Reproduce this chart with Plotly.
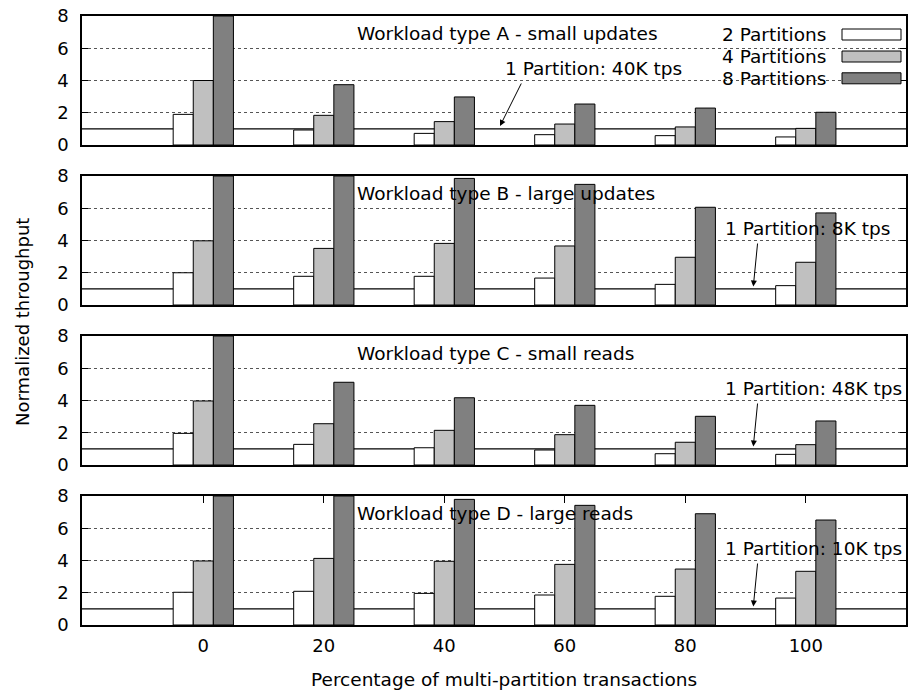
import plotly.graph_objects as go

# ---------------- data ----------------
PCT = [0, 20, 40, 60, 80, 100]
PCT_LABELS = ["0", "20", "40", "60", "80", "100"]
SERIES = ["2 Partitions", "4 Partitions", "8 Partitions"]

A_2 = [1.90, 0.93, 0.72, 0.64, 0.58, 0.50]
A_4 = [4.00, 1.84, 1.45, 1.30, 1.12, 1.03]
A_8 = [8.00, 3.74, 2.98, 2.54, 2.29, 2.03]

B_2 = [2.00, 1.78, 1.78, 1.67, 1.28, 1.20]
B_4 = [3.98, 3.51, 3.82, 3.66, 2.96, 2.65]
B_8 = [8.00, 8.00, 7.85, 7.48, 6.06, 5.71]

C_2 = [1.96, 1.28, 1.07, 0.93, 0.70, 0.66]
C_4 = [3.97, 2.56, 2.15, 1.88, 1.41, 1.26]
C_8 = [8.00, 5.13, 4.17, 3.70, 3.02, 2.73]

D_2 = [2.03, 2.09, 1.96, 1.86, 1.78, 1.67]
D_4 = [3.97, 4.13, 3.95, 3.76, 3.47, 3.33]
D_8 = [8.00, 8.00, 7.79, 7.42, 6.90, 6.51]

PANEL_TITLES = ["Workload type A - small updates", "Workload type B - large updates",
                "Workload type C - small reads", "Workload type D - large reads"]
BASELINE_LABELS = ["1 Partition: 40K tps", "1 Partition: 8K tps",
                   "1 Partition: 48K tps", "1 Partition: 10K tps"]
BASELINE = 1
Y_TICKS = [0, 2, 4, 6, 8]

PANELS = [(A_2, A_4, A_8), (B_2, B_4, B_8), (C_2, C_4, C_8), (D_2, D_4, D_8)]

# ---------------- style / layout ----------------
FONT = "DejaVu Sans"
COLORS = ["#ffffff", "#c0c0c0", "#808080"]
W, H = 918, 695
L_PX, R_PX = 82, 906
PANEL_TOPS = [16, 176, 336, 496]
PANEL_H = 129
BOTTOM_PX = 625
X0_PX = 203.3          # pixel of x=0
PX_PER_UNIT = 6.025    # pixels per percentage unit
Y_PX_PER_UNIT = PANEL_H / 8.0

plot_w = R_PX - L_PX
plot_h = BOTTOM_PX - PANEL_TOPS[0]


def px_to_paper_x(px):
    return (px - L_PX) / plot_w


def px_to_paper_y(py):
    return (BOTTOM_PX - py) / plot_h


def px_to_dx(px):
    return (px - X0_PX) / PX_PER_UNIT


def px_to_dy(py, top):
    return 8 - (py - top) / Y_PX_PER_UNIT


x_range = [px_to_dx(L_PX), px_to_dx(R_PX)]

fig = go.Figure()
for i, vals in enumerate(PANELS):
    sfx = "" if i == 0 else str(i + 1)
    for j, v in enumerate(vals):
        fig.add_trace(go.Bar(
            x=PCT, y=v, name=SERIES[j], marker=dict(color=COLORS[j],
                                                   line=dict(color="#000000", width=1)),
            xaxis="x" + sfx, yaxis="y" + sfx, showlegend=False, hoverinfo="x+y"))

layout = dict(
    width=W, height=H,
    margin=dict(l=L_PX, r=W - R_PX, t=PANEL_TOPS[0], b=H - BOTTOM_PX,
                autoexpand=False, pad=0),
    paper_bgcolor="white", plot_bgcolor="white",
    barmode="group", bargap=0.5, bargroupgap=0,
    font=dict(family=FONT, size=18, color="black"),
    showlegend=False,
)

for i in range(4):
    sfx = "" if i == 0 else str(i + 1)
    top = PANEL_TOPS[i]
    dom = [px_to_paper_y(top + PANEL_H), px_to_paper_y(top)]
    last = (i == 3)
    layout["xaxis" + sfx] = dict(
        domain=[0, 1], anchor="y" + sfx, range=x_range, automargin=False,
        showline=True, linecolor="black", linewidth=1.5, mirror="ticks" if last else True,
        showgrid=False, zeroline=False,
        tickvals=PCT if last else [], ticktext=PCT_LABELS if last else [],
        ticks="inside" if last else "", ticklen=7, tickcolor="black",
        showticklabels=last, tickfont=dict(size=18, family=FONT),
        ticklabelstandoff=4, layer="below traces", ticklabeloverflow="allow",
    )
    layout["yaxis" + sfx] = dict(
        domain=dom, anchor="x" + sfx, range=[0, 8], automargin=False,
        showline=True, linecolor="black", linewidth=1.5, mirror="ticks",
        tickvals=Y_TICKS, ticks="inside", ticklen=6, tickcolor="black",
        showgrid=True, gridcolor="#555555", griddash="dot", gridwidth=1,
        zeroline=False, tickfont=dict(size=18, family=FONT), ticklabelstandoff=8,
        ticklabeloverflow="allow",
    )

shapes = []
annotations = []
for i in range(4):
    sfx = "" if i == 0 else str(i + 1)
    top = PANEL_TOPS[i]
    # baseline (1 partition) reference line behind bars
    shapes.append(dict(type="line", xref="x" + sfx + " domain", yref="y" + sfx,
                       x0=0, x1=1, y0=BASELINE, y1=BASELINE,
                       line=dict(color="black", width=1.2), layer="below"))
    # panel title
    annotations.append(dict(text=PANEL_TITLES[i], xref="x" + sfx, yref="y" + sfx,
                            x=px_to_dx(355), y=px_to_dy(top + 17, top),
                            xanchor="left", yanchor="middle", showarrow=False,
                            font=dict(size=18.5, family=FONT)))
    # baseline label + arrow
    if i == 0:
        tx, ty = 503, top + 52
        tail, tip = (522, top + 66), (500, top + 110)
    else:
        tx, ty = 723, top + 52
        tail, tip = (757.7, top + 66), (753.3, top + 110.5)
    annotations.append(dict(text=BASELINE_LABELS[i], xref="x" + sfx, yref="y" + sfx,
                            x=px_to_dx(tx), y=px_to_dy(ty, top),
                            xanchor="left", yanchor="middle", showarrow=False,
                            font=dict(size=18.5, family=FONT)))
    annotations.append(dict(text="", xref="x" + sfx, yref="y" + sfx,
                            axref="x" + sfx, ayref="y" + sfx,
                            x=px_to_dx(tip[0]), y=px_to_dy(tip[1], top),
                            ax=px_to_dx(tail[0]), ay=px_to_dy(tail[1], top),
                            showarrow=True, arrowhead=2, arrowsize=1.2, arrowwidth=1,
                            arrowcolor="black"))

# legend (text on the left, sample on the right) with opaque background
shapes.append(dict(type="rect", xref="x", yref="y",
                   x0=px_to_dx(672), x1=px_to_dx(R_PX - 1),
                   y0=px_to_dy(92, PANEL_TOPS[0]), y1=8,
                   fillcolor="white", line=dict(width=0), layer="below"))
leg_centers = [34.5, 56.5, 78.3]
for j, name in enumerate(SERIES):
    cy = leg_centers[j]
    annotations.append(dict(text=name, xref="paper", yref="paper",
                            x=px_to_paper_x(828), y=px_to_paper_y(cy),
                            xanchor="right", yanchor="middle", showarrow=False,
                            font=dict(size=18.5, family=FONT)))
    shapes.append(dict(type="rect", xref="paper", yref="paper",
                       x0=px_to_paper_x(842), x1=px_to_paper_x(901),
                       y0=px_to_paper_y(cy + 5.5), y1=px_to_paper_y(cy - 5.5),
                       fillcolor=COLORS[j], line=dict(color="black", width=1),
                       layer="above"))

# axis titles
annotations.append(dict(text="Normalized throughput", xref="paper", yref="paper",
                        x=px_to_paper_x(22), y=px_to_paper_y(322), textangle=-90,
                        xanchor="center", yanchor="middle", showarrow=False,
                        font=dict(size=18, family=FONT)))
annotations.append(dict(text="Percentage of multi-partition transactions",
                        xref="paper", yref="paper",
                        x=px_to_paper_x(504), y=px_to_paper_y(679),
                        xanchor="center", yanchor="middle", showarrow=False,
                        font=dict(size=18.5, family=FONT)))

layout["shapes"] = shapes
layout["annotations"] = annotations
fig.update_layout(**layout)
fig.write_html("out.html",
               config={"displayModeBar": False},
               post_script="document.body.style.margin='0';"
                           "document.body.style.overflow='hidden';")
